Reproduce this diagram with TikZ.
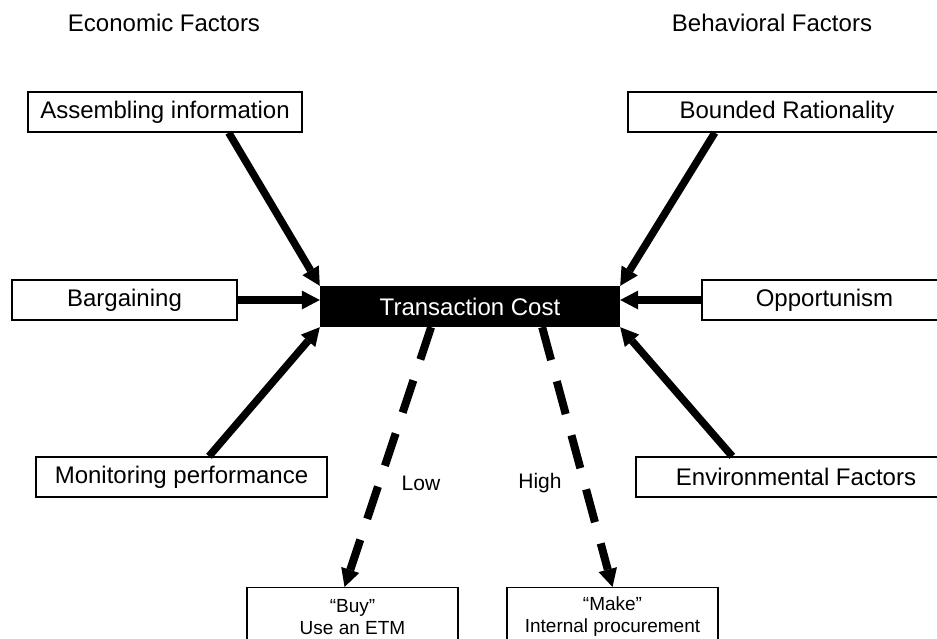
\documentclass[tikz,border=0pt]{standalone}
\usepackage{fontspec}
\setmainfont{Liberation Sans}
\usetikzlibrary{arrows.meta, calc}

\begin{document}
\begin{tikzpicture}[x=1pt, y=-1pt,
  >={Triangle[length=18pt, width=19pt, line width=0pt]},
  factor/.style={draw, line width=1.4pt, inner sep=0pt, minimum height=40pt,
    font=\fontsize{24}{28}\selectfont},
  choice/.style={draw, line width=1.4pt, inner sep=0pt, minimum width=211pt,
    minimum height=58pt, anchor=north, align=center,
    font=\fontsize{19}{22}\selectfont},
  push/.style={->, line width=7.5pt},
  pick/.style={->, line width=8pt, dash pattern=on 34pt off 22pt}]
  \useasboundingbox (0,0) rectangle (937,638);

  % column heads
  \node[font=\fontsize{24}{28}\selectfont] (econ) at (164,23) {Economic Factors};
  \node[font=\fontsize{24}{28}\selectfont] (behav) at (772,23) {Behavioral Factors};

  % centre
  \node[fill=black, text=white, inner sep=0pt, minimum width=300pt,
    minimum height=41pt, font=\fontsize{24}{28}\selectfont] (tc) at (470,306.5) {Transaction Cost};

  % economic side
  \node[factor, minimum width=274pt] (asm) at (165,112) {Assembling information};
  \node[factor, minimum width=225pt] (barg) at (124.5,300) {Bargaining};
  \node[factor, minimum width=291pt] (mon) at (181.5,477) {Monitoring performance};

  % behavioral side (boxes run off the right edge)
  \node[factor, minimum width=318pt] (bound) at (787,112) {Bounded Rationality};
  \node[factor, minimum width=245pt] (opp) at (824.5,300) {Opportunism};
  \node[factor, minimum width=320pt] (env) at (796,477) {Environmental Factors};

  % outcomes
  \node[choice] (buy) at (352.5,587) {``Buy''\\Use an ETM};
  \node[choice] (make) at (612.5,587) {``Make''\\Internal procurement};

  \draw[push] (asm.-18) -- (tc.north west);
  \draw[push] (barg.east) -- (barg.east -| tc.west);
  \draw[push] (mon.37) -- (tc.south west);
  \draw[push] (bound.196) -- (tc.north east);
  \draw[push] (opp.west) -- (opp.west -| tc.east);
  \draw[push] (env.162) -- (tc.south east);

  \draw[pick] (tc.208) -- (buy.105);
  \draw[pick] (tc.-16) -- (make.north);
  \node[font=\fontsize{21}{24}\selectfont] (low) at (421,483) {Low};
  \node[font=\fontsize{21}{24}\selectfont] (high) at (540,483) {High};
\end{tikzpicture}
\end{document}
